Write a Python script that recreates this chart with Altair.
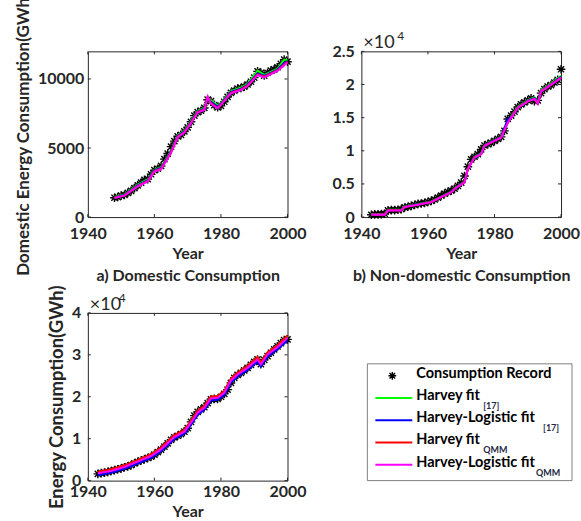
import altair as alt
import pandas as pd

FONT = "Lato"
INK = "#262626"
# eight-armed asterisk used for the recorded consumption points
STAR = "M-1,0L1,0M0,-1L0,1M-0.72,-0.72L0.72,0.72M-0.72,0.72L0.72,-0.72"

x_ticks = [1940, 1960, 1980, 2000]
fit_names = ["Harvey fit [17]", "Harvey-Logistic fit [17]", "Harvey fit QMM", "Harvey-Logistic fit QMM"]
fit_colors = ["#00ff00", "#0000ff", "#ff0000", "#ff00ff"]

# ---------------- a) domestic consumption (GWh) ----------------
dom_years = list(range(1948, 2001))
dom_record = [1400, 1450, 1550, 1600, 1750, 1900, 2100, 2300, 2500, 2700,
              2750, 3100, 3400, 3500, 3700, 4200, 4600, 5100, 5500, 5850,
              5950, 6200, 6500, 6900, 7350, 7600, 7700, 7900, 8500, 8400,
              8100, 7950, 8050, 8350, 8700, 9000, 9150, 9300, 9350, 9450,
              9600, 9800, 10100, 10550, 10450, 10250, 10450, 10600, 10700, 10850,
              11100, 11400, 11250]
dom_fit_years = [1948, 1951, 1955, 1958, 1960, 1962, 1965, 1967, 1969, 1971, 1973, 1975,
                 1976, 1977, 1979, 1980, 1983, 1986, 1988, 1991, 1993, 1997, 1999, 2000]
dom_harvey_17 = [1450, 1640, 2360, 2740, 3430, 3620, 4800, 5930, 6250, 6950, 7700, 7900,
                 8620, 8450, 8100, 8280, 9120, 9380, 9650, 10600, 10300, 10750, 11400, 11350]
dom_logistic_17 = [1420, 1600, 2300, 2680, 3380, 3560, 4750, 5880, 6200, 6900, 7650, 7850,
                   8650, 8350, 8000, 8220, 9060, 9300, 9580, 10400, 10220, 10680, 11150, 11300]
dom_harvey_qmm = [1400, 1570, 2250, 2620, 3330, 3500, 4700, 5830, 6160, 6850, 7610, 7800,
                  8680, 8250, 7920, 8160, 9010, 9250, 9530, 10330, 10160, 10620, 11050, 11250]
dom_logistic_qmm = [1380, 1550, 2220, 2580, 3300, 3460, 4650, 5790, 6120, 6800, 7570, 7760,
                    8720, 8200, 7880, 8120, 8970, 9200, 9490, 10290, 10120, 10580, 11000, 11200]

# ---------------- b) non-domestic consumption (GWh) ----------------
nd_years = list(range(1943, 2001))
nd_record = [350, 400, 400, 450, 500, 1000, 1050, 1050, 1100, 1200,
             1450, 1550, 1700, 1850, 2000, 2050, 2150, 2300, 2450, 2650,
             2950, 3250, 3550, 3800, 4000, 4300, 4700, 5200, 6200, 7600,
             8700, 9100, 9500, 10200, 10800, 11000, 11200, 11500, 11800, 12100,
             13000, 14800, 15300, 15900, 16600, 17000, 17300, 17600, 17900, 17500,
             17600, 18700, 19300, 19700, 19900, 20300, 20700, 22300]
nd_fit_years = [1943, 1947, 1948, 1952, 1953, 1957, 1961, 1964, 1967, 1968, 1971, 1972, 1974,
                1976, 1977, 1980, 1982, 1984, 1985, 1987, 1990, 1992, 1993, 1994, 1996, 2000]
nd_harvey_17 = [450, 450, 1100, 1100, 1600, 1950, 2350, 3100, 3850, 4350, 5350, 7350, 9100,
                9600, 10850, 11600, 12100, 14400, 15150, 16650, 17650, 18050, 17350, 19150, 19800, 21300]
nd_logistic_17 = [400, 400, 1050, 1050, 1550, 1900, 2300, 3050, 3800, 4300, 5300, 7300, 9050,
                  9550, 10800, 11550, 12050, 14800, 15050, 16550, 17550, 17950, 17250, 19050, 19700, 21150]
nd_harvey_qmm = [380, 380, 1030, 1030, 1530, 1880, 2280, 3030, 3770, 4270, 5270, 7270, 9010,
                 9510, 10760, 11510, 12010, 14250, 15000, 16500, 17490, 17840, 17140, 18990, 19640, 21050]
nd_logistic_qmm = [350, 350, 1000, 1000, 1500, 1850, 2250, 3000, 3740, 4240, 5240, 7240, 8980,
                   9480, 10730, 11480, 11980, 14220, 14970, 16470, 17460, 17810, 17110, 18960, 19610, 21000]

# ---------------- total consumption (GWh) ----------------
tot_years = list(range(1943, 2001))
tot_record = [1600, 1800, 1900, 2100, 2300, 2500, 2700, 2900, 3200, 3400,
              3700, 4100, 4500, 4800, 5100, 5400, 5700, 6200, 6800, 7400,
              8100, 8900, 9700, 10300, 10700, 11100, 11700, 12500, 14000, 15500,
              16400, 17000, 17500, 18500, 19400, 19500, 19500, 20000, 20700, 21700,
              23300, 24500, 25200, 25700, 26300, 26900, 27600, 28300, 28900, 27800,
              28800, 29700, 30500, 31300, 32000, 32800, 33500, 33700]
tot_fit_years = [1943, 1947, 1951, 1955, 1959, 1962, 1966, 1969, 1971, 1973, 1975,
                 1977, 1979, 1981, 1983, 1985, 1988, 1991, 1992, 1994, 1997, 2000]
tot_harvey_17 = [2000, 2600, 3550, 4850, 6200, 7800, 10750, 12000, 14150, 16550, 17750,
                 19950, 20100, 21300, 24250, 25700, 27300, 29350, 28100, 30450, 32200, 34450]
tot_logistic_17 = [1300, 1850, 2800, 4050, 5400, 7000, 9950, 11200, 13350, 15700, 16900,
                   19100, 19300, 20450, 23400, 24850, 26400, 28400, 27250, 29600, 31350, 33400]
tot_harvey_qmm = [2100, 2700, 3650, 4950, 6300, 7900, 10850, 12100, 14250, 16650, 17850,
                  20050, 20200, 21400, 24350, 25800, 27400, 29500, 28200, 30550, 32300, 34600]
tot_logistic_qmm = [1740, 2300, 3250, 4520, 5870, 7460, 10400, 11670, 13810, 16190, 17380,
                    19600, 19760, 20950, 23890, 25320, 26900, 28890, 27700, 30080, 31830, 34000]

# ---------------- legend ----------------
legend_labels = ["Consumption Record", "Harvey fit", "Harvey-Logistic fit", "Harvey fit", "Harvey-Logistic fit"]
legend_subs = ["", "[17]", "[17]", "QMM", "QMM"]
legend_colors = ["black"] + fit_colors
legend_sub_x = [0, 122, 182, 122, 175]   # pixel offsets of the subscripts inside the legend panel

PLOT_W = 200


def panel(years, record, fit_years, fits, y_max, y_ticks, y_title, y_title_size, height,
          scaled, x_title, y_label_pad, x_label_pad, power_x=36):
    xs = alt.Scale(domain=[1940, 2000], nice=False, zero=False)
    ys = alt.Scale(domain=[0, y_max], nice=False)

    axis_common = dict(tickSize=0, domain=False, grid=False,
                       labelFont=FONT, labelFontSize=16, labelFontWeight="bold", labelColor=INK,
                       titleFont=FONT, titleFontWeight="bold", titleColor=INK)
    # the x title carries the panel caption as its second line
    x_axis = alt.Axis(values=x_ticks, format="d", title=x_title, labelPadding=x_label_pad,
                      titlePadding=4, titleFontSize=16, titleLineHeight=23,
                      labelFlush=False, labelOverlap=False, **axis_common)
    y_kwargs = dict(values=y_ticks, labelPadding=y_label_pad, titlePadding=5,
                    titleFontSize=y_title_size, titleLimit=600, labelOverlap=False, **axis_common)
    if scaled:
        y_kwargs["labelExpr"] = "datum.value / 10000"
    else:
        y_kwargs["format"] = "d"
    y_kwargs["title"] = y_title if y_title else ""
    y_axis = alt.Axis(**y_kwargs)

    xenc = alt.X("Year:Q", scale=xs, axis=x_axis)
    yenc = alt.Y("Value:Q", scale=ys, axis=y_axis)

    rec = alt.Chart(pd.DataFrame({"Year": years, "Value": record})).mark_point(
        shape=STAR, filled=False, color="black", strokeWidth=1.4, size=75, opacity=1
    ).encode(x=xenc, y=yenc)

    layers = [rec]
    for name, color in zip(fit_names, fit_colors):
        df = pd.DataFrame({"Year": fit_years, "Value": fits[name]})
        layers.append(
            alt.Chart(df).mark_line(color=color, strokeWidth=2).encode(x=xenc, y=yenc)
        )

    # inward-pointing ticks on all four sides of the box
    xt = alt.Chart(pd.DataFrame({"Year": x_ticks})).mark_rule(color=INK, strokeWidth=1)
    yt = alt.Chart(pd.DataFrame({"Value": y_ticks})).mark_rule(color=INK, strokeWidth=1)
    layers += [
        xt.encode(x=xenc, y=alt.value(height), y2=alt.value(height - 3)),
        xt.encode(x=xenc, y=alt.value(0), y2=alt.value(3)),
        yt.encode(y=yenc, x=alt.value(0), x2=alt.value(3)),
        yt.encode(y=yenc, x=alt.value(PLOT_W), x2=alt.value(PLOT_W - 3)),
    ]

    if scaled:
        exp_df = pd.DataFrame({"base": ["×10"], "power": ["4"]})
        layers.append(
            alt.Chart(exp_df).mark_text(align="left", baseline="middle", font=FONT,
                                        fontSize=18, color=INK).encode(
                x=alt.value(2), y=alt.value(-8), text="base:N")
        )
        layers.append(
            alt.Chart(exp_df).mark_text(align="left", baseline="middle", font=FONT,
                                        fontSize=12, color=INK).encode(
                x=alt.value(power_x), y=alt.value(-15), text="power:N")
        )

    return alt.layer(*layers).properties(width=PLOT_W, height=height)


pa = panel(dom_years, dom_record, dom_fit_years,
           dict(zip(fit_names, [dom_harvey_17, dom_logistic_17, dom_harvey_qmm, dom_logistic_qmm])),
           12000, [0, 5000, 10000], "Domestic Energy Consumption(GWh)", 17, 166,
           False, ["Year", "a) Domestic Consumption"], 4, 8)
pb = panel(nd_years, nd_record, nd_fit_years,
           dict(zip(fit_names, [nd_harvey_17, nd_logistic_17, nd_harvey_qmm, nd_logistic_qmm])),
           25000, [0, 5000, 10000, 15000, 20000, 25000], None, 16, 166,
           True, ["Year", "b) Non-domestic Consumption"], 7, 8)
pc = panel(tot_years, tot_record, tot_fit_years,
           dict(zip(fit_names, [tot_harvey_17, tot_logistic_17, tot_harvey_qmm, tot_logistic_qmm])),
           40000, [0, 10000, 20000, 30000, 40000], "Energy Consumption(GWh)", 18.5, 168,
           True, "Year", 7, 3, power_x=31)

# legend drawn as its own panel
leg_df = pd.DataFrame({
    "row": list(range(len(legend_labels))),
    "label": legend_labels,
    "sub": legend_subs,
    "color": legend_colors,
    "sub_x": legend_sub_x,
})
leg_y = alt.Y("row:Q", scale=alt.Scale(domain=[0, 4], range=[63, 152]), axis=None)
leg_box = alt.Chart(pd.DataFrame({"box": [1]})).mark_rect(
    fill="white", stroke="#7f7f7f", strokeWidth=1
).encode(x=alt.value(6), x2=alt.value(211), y=alt.value(51), y2=alt.value(168))
leg_star = alt.Chart(leg_df.iloc[:1]).mark_point(
    shape=STAR, filled=False, color="black", strokeWidth=1.4, size=60, opacity=1
).encode(x=alt.value(31), y=leg_y)
leg_lines = alt.Chart(leg_df.iloc[1:]).mark_rule(strokeWidth=2).encode(
    x=alt.value(14), x2=alt.value(51), y=leg_y,
    color=alt.Color("color:N", scale=None),
)
leg_text = alt.Chart(leg_df).mark_text(
    align="left", baseline="middle", dy=-2, font=FONT, fontSize=14.5, fontWeight="bold", color="black"
).encode(x=alt.value(55), y=leg_y, text="label:N")
leg_sub = alt.Chart(leg_df.iloc[1:]).mark_text(
    align="left", baseline="middle", dy=8, font=FONT, fontSize=9, fontWeight="bold", color="#1f2a44"
).encode(x=alt.X("sub_x:Q", scale=None, axis=None), y=leg_y, text="sub:N")
legend = alt.layer(leg_box, leg_star, leg_lines, leg_text, leg_sub).properties(
    width=PLOT_W, height=168, view=alt.ViewBackground(stroke="transparent")
)

chart = alt.concat(
    pa, pb, pc, legend, columns=2, spacing={"row": 96, "column": 74}, bounds="flush"
).properties(
    padding={"left": 14, "top": -9, "right": 0, "bottom": 0},
    background="white",
).configure_view(stroke=INK, strokeWidth=1)

chart.save("out.html", embed_options={"renderer": "svg", "actions": False})
